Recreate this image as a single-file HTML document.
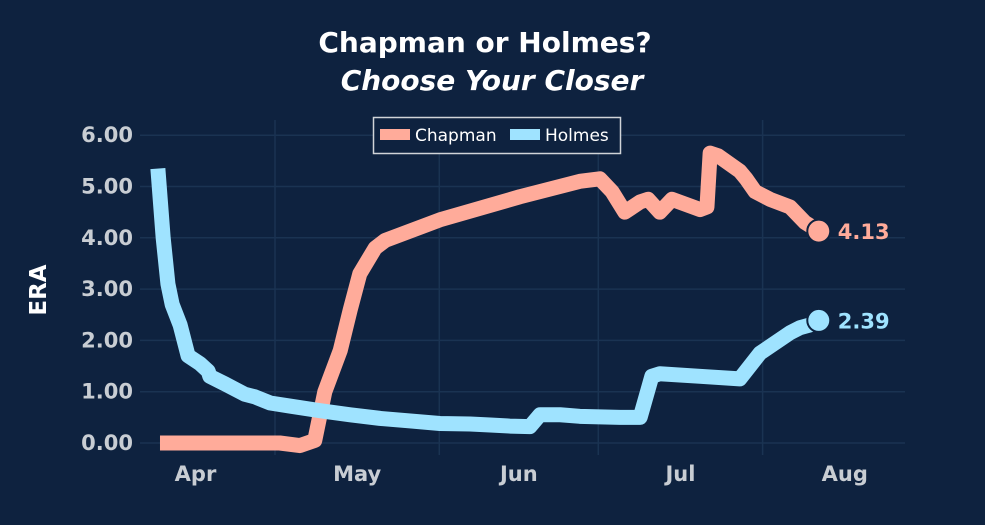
<!DOCTYPE html>
<html><head><meta charset="utf-8"><style>
body{margin:0;background:#0e223f;}
svg{display:block;font-family:"DejaVu Sans","Liberation Sans",sans-serif;}
</style></head><body>
<svg id="chart" width="985" height="525">
<rect width="985" height="525" fill="#0e223f"/>
<text x="485" y="52" text-anchor="middle" font-size="28" font-weight="bold" fill="#fff">Chapman or Holmes?</text>
<text x="492" y="90" text-anchor="middle" font-size="28" font-weight="bold" font-style="italic" fill="#fff">Choose Your Closer</text>
<text transform="translate(46,290) rotate(-90)" text-anchor="middle" font-size="23" font-weight="bold" fill="#fff">ERA</text>
<g id="grid"></g><g id="lines"></g><g id="labels"></g>
<g>
<rect x="373.5" y="117.5" width="247" height="36" fill="#0e223f" stroke="#d0d4d8" stroke-width="1.5"/>
<rect x="380" y="129" width="30" height="11" fill="#ffab9a"/>
<text x="415" y="141" font-size="17" fill="#fff">Chapman</text>
<rect x="510" y="129" width="30" height="11" fill="#9fe3ff"/>
<text x="545" y="141" font-size="17" fill="#fff">Holmes</text>
</g>
</svg>
<script>
const yTicks=[0,1,2,3,4,5,6];
const monthLabels=["Apr","May","Jun","Jul","Aug"];
const monthStarts=[0,30,61,91,122,153];
const chapmanDays=[8.3,30.9,34.7,37.5,39.4,42.3,44.2,46,48.9,50.8,61.1,76.2,87.5,91.3,93.6,96,98.9,100.4,102.6,104.9,110.2,111.5,112.1,113.6,117.7,118.9,120.6,123.4,127.2,130,132.6];
const chapmanEra=[0,0,-0.05,0.05,1.0,1.8,2.6,3.3,3.8,3.95,4.35,4.8,5.1,5.15,4.9,4.5,4.7,4.75,4.5,4.75,4.55,4.6,5.65,5.6,5.3,5.15,4.9,4.75,4.6,4.3,4.13];
const holmesDays=[7.9,8.9,9.8,10.6,12.1,13.6,15.8,17.4,17.7,20.6,24.3,26.2,29.1,32.8,38.5,44.2,49.8,55.5,61.1,66.8,70.6,74.3,78.1,80,83.8,87.5,95.1,98.9,101.1,102.6,110.2,117.7,121.5,127.2,129.1,130.9,132.6];
const holmesEra=[5.35,4.0,3.1,2.7,2.3,1.7,1.55,1.4,1.3,1.15,0.95,0.9,0.78,0.72,0.63,0.55,0.48,0.43,0.38,0.37,0.35,0.33,0.32,0.55,0.55,0.52,0.5,0.5,1.3,1.35,1.3,1.25,1.75,2.15,2.25,2.3,2.39];
const X=d=>116+d*5.3, Y=v=>443-v*51.3;
const NS="http://www.w3.org/2000/svg";
const grid=document.getElementById('grid'),lines=document.getElementById('lines'),labels=document.getElementById('labels');
function mk(tag,attrs,parent){const e=document.createElementNS(NS,tag);for(const k in attrs)e.setAttribute(k,attrs[k]);parent.appendChild(e);return e;}
yTicks.forEach(v=>{
 const l=mk('line',{x1:140,x2:905,y1:Y(v),y2:Y(v),stroke:'#1a3352','stroke-width':1.5},grid);
 
 
 const t=mk('text',{x:133,y:Y(v)+7,'text-anchor':'end','font-size':21,'font-weight':'bold',fill:'#c8cdd3'},labels);
 t.textContent=v.toFixed(2);
 
 
});
monthStarts.slice(1,5).forEach(d=>{
 const l=mk('line',{x1:X(d),x2:X(d),y1:120,y2:455,stroke:'#1a3352','stroke-width':1.5},grid);
 
 
});
monthLabels.forEach((m,i)=>{
 const mid=(monthStarts[i]+monthStarts[i+1])/2;
 const t=mk('text',{x:X(mid),y:481,'text-anchor':'middle','font-size':21,'font-weight':'bold',fill:'#c8cdd3'},labels);
 t.textContent=m;
 
 
});
function series(days,vals,color,name){
 const p=mk('polyline',{points:days.map((d,i)=>X(d)+','+Y(vals[i])).join(' '),fill:'none',stroke:color,'stroke-width':15,'stroke-linejoin':'round'},lines);
 
 
 const n=days.length-1;
 const c=mk('circle',{cx:X(days[n]),cy:Y(vals[n]),r:11.5,fill:color,stroke:'#0e223f','stroke-width':2},lines);
 
 
 const t=mk('text',{x:X(days[n])+19,y:Y(vals[n])+8,'font-size':21,'font-weight':'bold',fill:color},labels);
 t.textContent=vals[n].toFixed(2);
 
 
}
series(chapmanDays,chapmanEra,'#ffab9a','chapman');
series(holmesDays,holmesEra,'#9fe3ff','holmes');
</script>
</body></html>
